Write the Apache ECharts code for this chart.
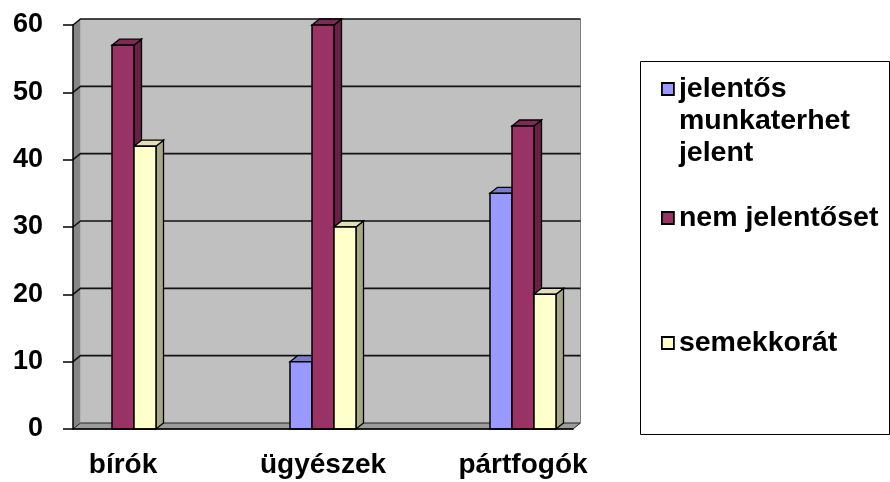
<!DOCTYPE html>
<html>
<head>
<meta charset="utf-8">
<script src="https://cdn.jsdelivr.net/npm/echarts@6/dist/echarts.min.js"></script>
<style>
  html, body { margin: 0; padding: 0; background: #fff; }
  #main { width: 890px; height: 482px; }
</style>
</head>
<body>
<div id="main"></div>
<script>
// data
const categories = ['bírók', 'ügyészek', 'pártfogók']
const seriesNames = ['jelentős munkaterhet jelent', 'nem jelentőset', 'semekkorát']
const jelentos = [0, 10, 35]
const nemJelentos = [57, 60, 45]
const semekkora = [42, 30, 20]
const yTicks = [0, 10, 20, 30, 40, 50, 60]

// the original has an empty slot between the groups
const axisCats = []
categories.forEach((c, i) => {
  if (i > 0) axisCats.push('')
  axisCats.push(c)
})
const toSlots = (arr) => arr.map((v, i) => [i * 2, v])

const FONT = '"Liberation Sans", Arial, sans-serif'
const DX = 7.5 // 3d depth
const DY = -6
const BAR_W = 0.22

const poly = (points, fill, stroke, lw) => ({
  type: 'polygon',
  shape: { points },
  style: { fill, stroke: stroke || null, lineWidth: lw || 0 }
})

// back wall, side wall, floor and grid lines
const wallRender = (params, api) => {
  const cs = params.coordSys
  const xl = cs.x
  const xr = cs.x + cs.width
  const y0 = api.coord([0, yTicks[0]])[1]
  const yt = api.coord([0, yTicks[yTicks.length - 1]])[1]
  const children = [
    poly([[xl + DX, yt + DY], [xr + DX, yt + DY], [xr + DX, y0 + DY], [xl + DX, y0 + DY]], '#c0c0c0'),
    poly([[xl, yt], [xl + DX, yt + DY], [xl + DX, y0 + DY], [xl, y0]], '#868686'),
    poly([[xl, y0], [xl + DX, y0 + DY], [xr + DX, y0 + DY], [xr, y0]], '#9c9c9c', '#222', 1),
    {
      type: 'line',
      shape: { x1: xr + DX, y1: yt + DY, x2: xr + DX, y2: y0 + DY },
      style: { stroke: '#808080', lineWidth: 1 }
    }
  ]
  yTicks.slice(1).forEach((v) => {
    const y = api.coord([0, v])[1]
    children.push({
      type: 'polyline',
      shape: { points: [[xl, y], [xl + DX, y + DY], [xr + DX, y + DY]] },
      style: { stroke: '#111', lineWidth: 1.6, fill: null }
    })
  })
  return { type: 'group', children }
}

const barRender = (offset, front, top, side) => (params, api) => {
  const cat = api.value(0)
  const v = api.value(1)
  if (!v) return null
  const base = api.coord([cat, 0])
  const head = api.coord([cat, v])
  const band = api.size([1, 0])[0]
  const x0 = base[0] + band * offset
  const x1 = x0 + band * BAR_W
  const yb = base[1]
  const yh = head[1]
  return {
    type: 'group',
    children: [
      poly([[x1, yh], [x1 + DX, yh + DY], [x1 + DX, yb + DY], [x1, yb]], side, '#000', 1.3),
      poly([[x0, yh], [x0 + DX, yh + DY], [x1 + DX, yh + DY], [x1, yh]], top, '#000', 1.3),
      poly([[x0, yh], [x1, yh], [x1, yb], [x0, yb]], front, '#000', 1.5)
    ]
  }
}

const colors = [
  { front: '#9999ff', top: '#7b7bd0', side: '#6666aa' },
  { front: '#993366', top: '#7d2a54', side: '#662244' },
  { front: '#ffffcc', top: '#e0e0b4', side: '#a8a888' }
]
const values = [jelentos, nemJelentos, semekkora]
const offsets = [-0.33, -0.11, 0.11]

const legendText = { fontFamily: FONT, fontSize: 28.5, fontWeight: 'bold', color: '#000', lineHeight: 32 }
const mkLegend = (name, top, formatter) => ({
  data: [name],
  left: 661,
  top,
  padding: 0,
  orient: 'vertical',
  icon: 'rect',
  itemWidth: 12,
  itemHeight: 12,
  itemGap: 0,
  selectedMode: false,
  itemStyle: { borderColor: '#000', borderWidth: 1.8 },
  textStyle: legendText,
  formatter: formatter || ((n) => n)
})

const chart = echarts.init(document.getElementById('main'))
chart.setOption({
  animation: false,
  backgroundColor: '#fff',
  grid: { left: 73, right: 317, top: 25, bottom: 53 },
  xAxis: {
    type: 'category',
    data: axisCats,
    z: 10,
    axisLine: { lineStyle: { color: '#000', width: 1.5 } },
    axisTick: { interval: 0, length: 9, lineStyle: { color: '#000', width: 1.5 } },
    axisLabel: { interval: 0, margin: 22, fontFamily: FONT, fontSize: 28, fontWeight: 'bold', color: '#000' }
  },
  yAxis: {
    type: 'value',
    min: 0,
    max: 60,
    interval: 10,
    z: 10,
    splitLine: { show: false },
    axisLine: { show: true, lineStyle: { color: '#000', width: 1.5 } },
    axisTick: { show: true, length: 10, lineStyle: { color: '#000', width: 1.5 } },
    axisLabel: { margin: 30, fontFamily: FONT, fontSize: 27, fontWeight: 'bold', color: '#000' }
  },
  legend: [
    mkLegend(seriesNames[0], 9, () => '\n\njelentős\nmunkaterhet\njelent'),
    mkLegend(seriesNames[1], 202),
    mkLegend(seriesNames[2], 327)
  ],
  graphic: [{
    type: 'rect',
    left: 638,
    top: 59,
    shape: { width: 249, height: 373 },
    style: { fill: 'none', stroke: '#000', lineWidth: 1 },
    silent: true
  }],
  series: [
    {
      name: 'walls',
      type: 'custom',
      silent: true,
      clip: false,
      z: 1,
      data: [[0, 0]],
      renderItem: wallRender
    }
  ].concat(values.map((arr, i) => ({
    name: seriesNames[i],
    type: 'custom',
    clip: false,
    z: 3 + i,
    itemStyle: { color: colors[i].front },
    data: toSlots(arr),
    renderItem: barRender(offsets[i], colors[i].front, colors[i].top, colors[i].side)
  })))
})
</script>
</body>
</html>
